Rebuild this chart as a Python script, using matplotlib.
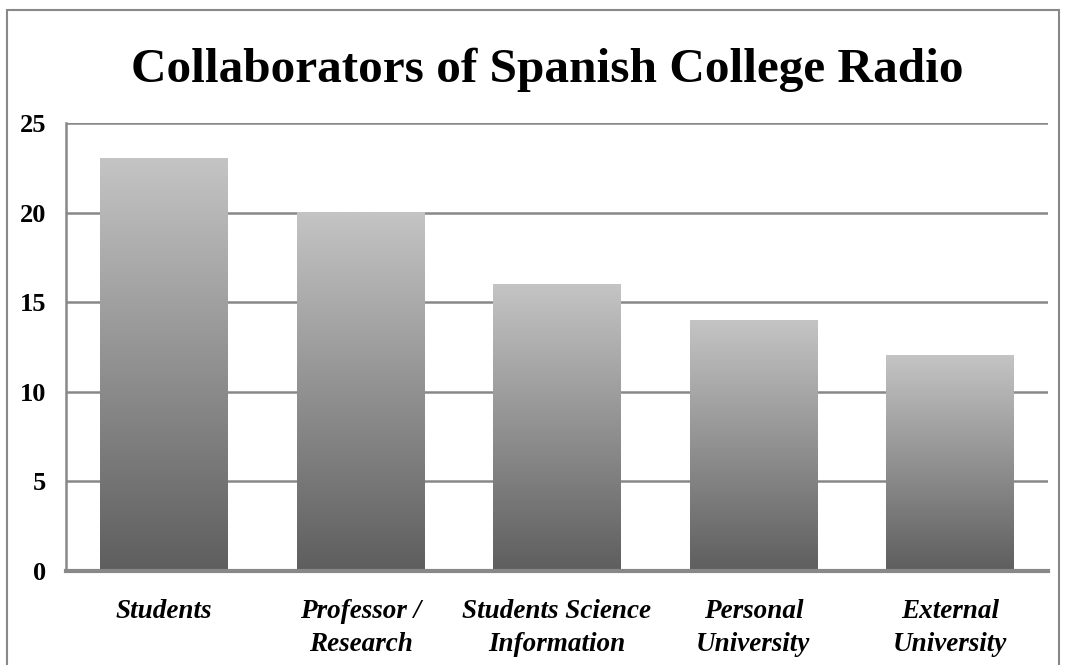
import numpy as np
import matplotlib
matplotlib.use("Agg")
import matplotlib.pyplot as plt
from matplotlib.patches import Rectangle

# chart data
categories = ["Students", "Professor /\nResearch", "Students Science\nInformation",
              "Personal\nUniversity", "External\nUniversity"]
values = [23, 20, 16, 14, 12]
yticks = [0, 5, 10, 15, 20, 25]

fig = plt.figure(figsize=(10.66, 6.65), dpi=100)
ax = fig.add_axes([66 / 1066, 1 - 571 / 665, (1048 - 66) / 1066, (571 - 123) / 665])

# outer frame of the chart
fig.patches.append(Rectangle((7 / 1066, -0.01), 1052 / 1066, 1 - 10 / 665 + 0.01,
                             transform=fig.transFigure, fill=False,
                             edgecolor="#888888", linewidth=1.5))

x = np.arange(len(categories))
width = 0.65
bars = ax.bar(x, values, width=width, color="none", zorder=3)

# vertical gradient, light top to dark bottom, for each bar
grad = np.linspace(0, 1, 256).reshape(-1, 1)
cmap = matplotlib.colors.LinearSegmentedColormap.from_list("g", ["#5e5e5e", "#c4c4c4"])
for b in bars:
    x0, y0 = b.get_x(), b.get_y()
    ax.imshow(grad, extent=[x0, x0 + b.get_width(), y0, y0 + b.get_height()],
              origin="lower", aspect="auto", cmap=cmap, zorder=3)

ax.set_xlim(-0.5, len(categories) - 0.5)
ax.set_ylim(0, 25)
ax.set_yticks(yticks)
ax.yaxis.grid(True, color="#888888", linewidth=1.8, zorder=1)
ax.set_axisbelow(True)

for s in ["top", "right"]:
    ax.spines[s].set_visible(False)
ax.spines["left"].set_color("#888888")
ax.spines["left"].set_linewidth(1.8)
ax.spines["bottom"].set_color("#888888")
ax.spines["bottom"].set_linewidth(3)
ax.spines["bottom"].set_zorder(4)

ax.tick_params(length=0)
ax.tick_params(axis="y", pad=14)
ax.tick_params(axis="x", pad=20)
ax.set_yticklabels([str(t) for t in yticks], fontfamily="Liberation Serif",
                   fontweight="bold", fontsize=19)
ax.set_xticks(x)
ax.set_xticklabels(categories, fontfamily="Liberation Serif", fontweight="bold",
                   fontstyle="italic", fontsize=19.5, linespacing=1.45)

fig.text(0.5136, 1 - 82 / 665, "Collaborators of Spanish College Radio",
         ha="center", va="baseline", fontfamily="Liberation Serif",
         fontweight="bold", fontsize=35.5)

plt.savefig("out.png", dpi=100)
